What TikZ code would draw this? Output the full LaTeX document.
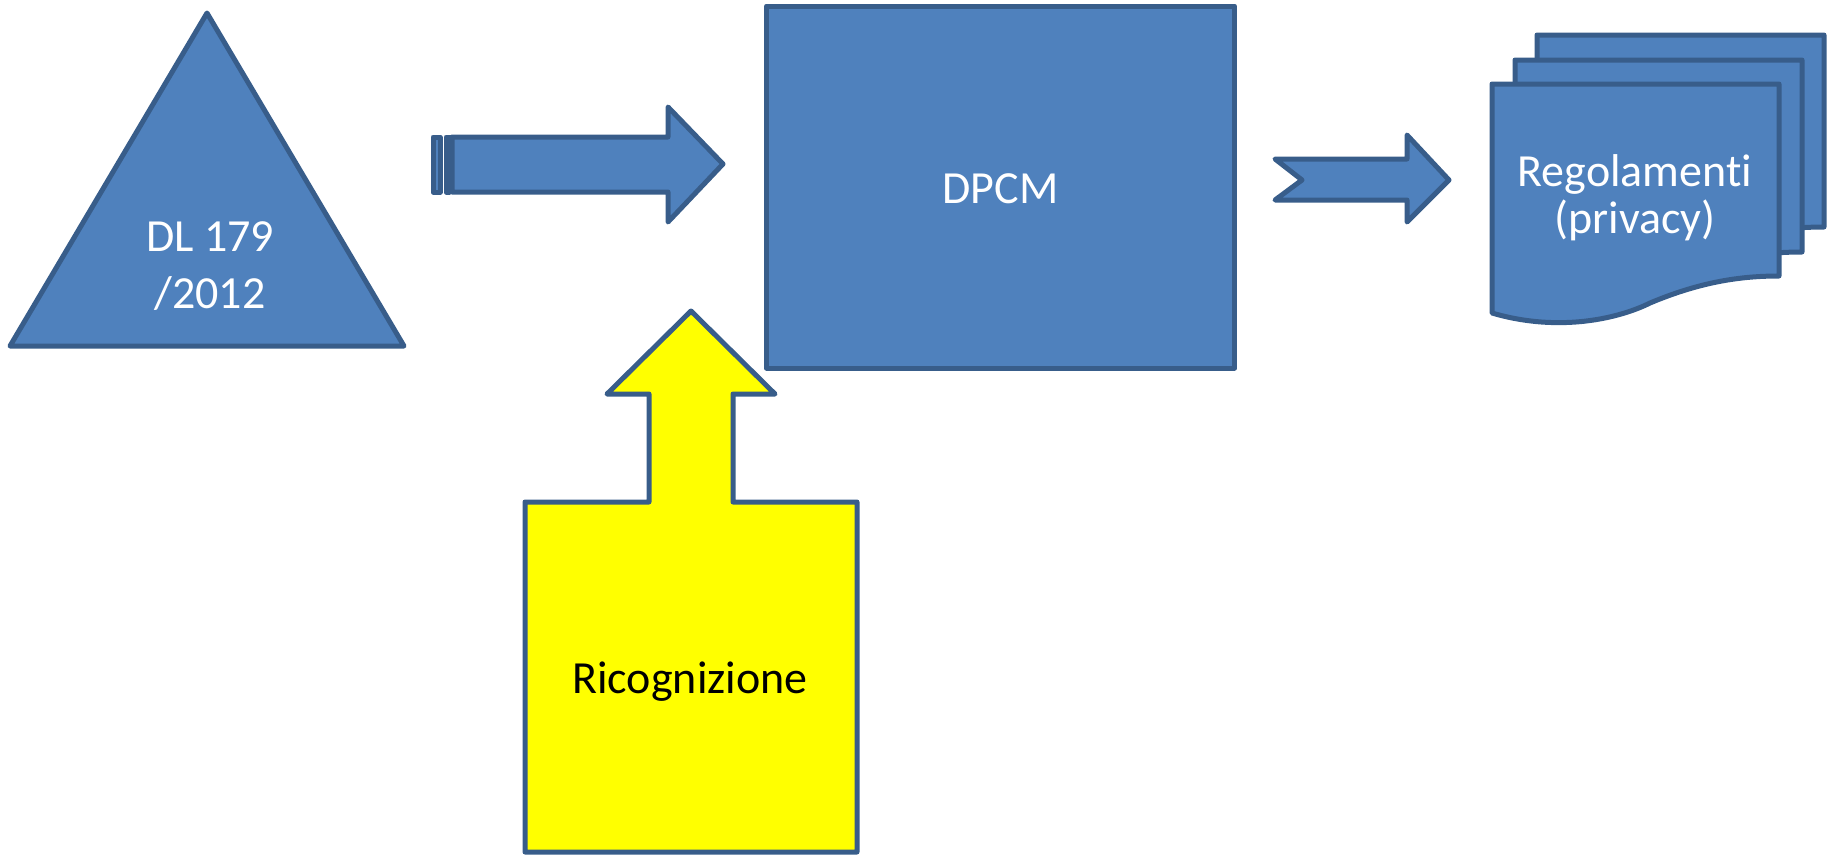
\documentclass[tikz,border=0pt]{standalone}
\usepackage{fontspec}
\setmainfont{Carlito}[Ligatures=NoCommon]
\usetikzlibrary{positioning}
\definecolor{ofblue}{HTML}{4F81BD}
\definecolor{ofline}{HTML}{385D8A}
\definecolor{callout}{HTML}{FFFF00}

\begin{document}
\begin{tikzpicture}[x=1pt,y=-1pt,
    block/.style={fill=ofblue,draw=ofline,line width=5pt,line join=round},
    blocktext/.style={text=white,font=\fontsize{46}{47}\selectfont,align=center,inner sep=0pt}]
    \useasboundingbox (0,0) rectangle (1836,855);

    \draw[block] (207,13) -- (404,346) -- (10,346) -- cycle;
    \node[blocktext,font=\fontsize{46}{57}\selectfont] (dl) at (210,266) {DL 179\\/2012};

    \draw[block] (433,137) rectangle (440,192);
    \draw[block] (446,137) rectangle (449,192);
    \draw[block] (452,137) -- (668,137) -- (668,107) -- (723,164) -- (668,222) -- (668,192) -- (452,192) -- cycle;

    \node[block,minimum width=468pt,minimum height=362pt,inner sep=0pt] (dpcm) at (1000.5,187) {};
    \node[blocktext] (dpcmtext) at (1000.5,189) {DPCM};

    \draw[block] (1275,159) -- (1407,159) -- (1407,135) -- (1449,180) -- (1407,222) -- (1407,200) -- (1275,200) -- (1302,180) -- cycle;

    \foreach \dx/\dy in {45/-49,23/-24,0/0}
        \draw[block,shift={(\dx,\dy)}] (1492,84) -- (1779,84) -- (1779,276)
            .. controls (1740,276) and (1700,282) .. (1650,303)
            .. controls (1620,318) and (1560,333) .. (1492,313) -- cycle;
    \node[blocktext] (regol) at (1635,198) {Regolamenti\\(privacy)};

    \draw[block,fill=callout] (691,311) -- (775,394) -- (733,394) -- (733,502) -- (857,502) -- (857,852)
        -- (525,852) -- (525,502) -- (649,502) -- (649,394) -- (607,394) -- cycle;
    \node[blocktext,text=black] (ricog) at (690,682) {Ricognizione};
\end{tikzpicture}
\end{document}
